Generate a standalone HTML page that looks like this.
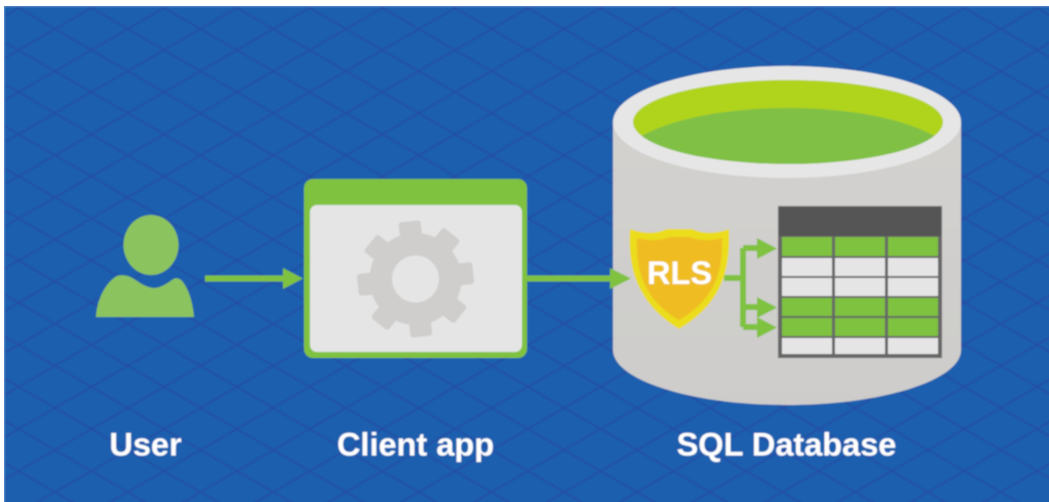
<!DOCTYPE html>
<html><head><meta charset="utf-8"><style>
html,body{margin:0;padding:0;background:#fff;width:1049px;height:502px;overflow:hidden}
svg{display:block}
text{font-family:"Liberation Sans",sans-serif;font-weight:bold;fill:#fff}
</style></head><body>
<svg width="1049" height="502" viewBox="0 0 1049 502" xmlns="http://www.w3.org/2000/svg">
<defs>
<pattern id="lat" x="55" y="29" width="72.75" height="42.1" patternUnits="userSpaceOnUse">
<path d="M0 0L72.75 42.1M72.75 0L0 42.1" stroke="#2350a6" stroke-width="1.9" fill="none"/>
</pattern>
<clipPath id="inner"><ellipse cx="788" cy="122" rx="155" ry="42"/></clipPath>
<filter id="b" x="-2%" y="-2%" width="104%" height="104%"><feGaussianBlur stdDeviation="0.7"/></filter>
<linearGradient id="cyl" x1="0" y1="0" x2="0" y2="1"><stop offset="0" stop-color="#d2d1cf"/><stop offset="1" stop-color="#cdccca"/></linearGradient>
</defs>
<rect x="4" y="6" width="1055" height="506" fill="#5f8fca"/>
<g filter="url(#b)">
<rect x="5" y="7" width="1054" height="505" fill="#1a5fae"/>
<rect x="5" y="7" width="1054" height="505" fill="url(#lat)"/>

<!-- user -->
<ellipse cx="151" cy="245" rx="27.5" ry="30" fill="#8bc45f"/>
<path d="M96 317C97 300 105 283 117 276C124 274 130 276 137 281C144 286 150 288 155 288C160 288 168 283 172 280C176 277 179 278 182 281C189 289 193 304 194 317Z" fill="#8bc45f"/>

<!-- arrow 1 -->
<rect x="205" y="275.500" width="80" height="6" fill="#7fc241"/>
<path d="M283 268L303 278.500L283 289Z" fill="#7fc241"/>

<!-- client app -->
<rect x="304" y="179" width="223" height="179" rx="9" fill="#7fc241"/>
<rect x="310" y="205" width="212" height="147" rx="7" fill="#e5e5e5"/>
<g transform="translate(415.500 279)" fill="#cfcecc">
<circle r="46"/>
<g id="teeth">
<rect x="-11" y="-58" width="22" height="24" rx="3" transform="rotate(-6)"/>
<rect x="-11" y="-58" width="22" height="24" rx="3" transform="rotate(39)"/>
<rect x="-11" y="-58" width="22" height="24" rx="3" transform="rotate(84)"/>
<rect x="-11" y="-58" width="22" height="24" rx="3" transform="rotate(129)"/>
<rect x="-11" y="-58" width="22" height="24" rx="3" transform="rotate(174)"/>
<rect x="-11" y="-58" width="22" height="24" rx="3" transform="rotate(219)"/>
<rect x="-11" y="-58" width="22" height="24" rx="3" transform="rotate(264)"/>
<rect x="-11" y="-58" width="22" height="24" rx="3" transform="rotate(309)"/>
</g>
<circle r="23.500" fill="#e5e5e5"/>
</g>

<!-- cylinder -->
<path d="M613 122V350C613 380 691 405 787 405C883 405 961 380 961 350V122Z" fill="url(#cyl)"/>
<ellipse cx="787" cy="122" rx="174" ry="56" fill="#e6e6e6"/>
<ellipse cx="788" cy="122" rx="155" ry="42" fill="#b0d31f"/>
<g clip-path="url(#inner)"><ellipse cx="788" cy="165" rx="170" ry="57" fill="#7fc045"/></g>

<!-- arrow 2 -->
<rect x="527" y="275.500" width="86" height="6" fill="#7fc241"/>
<path d="M610 268L631 278.500L610 289Z" fill="#7fc241"/>

<!-- table -->
<rect x="778" y="206" width="164" height="152" fill="#666"/>
<rect x="779" y="207" width="162" height="29" fill="#555"/>
<g fill="#7fc241">
<rect x="782" y="237" width="50" height="19"/><rect x="835" y="237" width="50" height="19"/><rect x="888" y="237" width="50" height="19"/>
<rect x="782" y="298" width="50" height="18"/><rect x="835" y="298" width="50" height="18"/><rect x="888" y="298" width="50" height="18"/>
<rect x="782" y="318" width="50" height="18"/><rect x="835" y="318" width="50" height="18"/><rect x="888" y="318" width="50" height="18"/>
</g>
<g fill="#e5e5e5">
<rect x="782" y="258" width="50" height="18"/><rect x="835" y="258" width="50" height="18"/><rect x="888" y="258" width="50" height="18"/>
<rect x="782" y="278" width="50" height="18"/><rect x="835" y="278" width="50" height="18"/><rect x="888" y="278" width="50" height="18"/>
<rect x="782" y="338" width="50" height="16"/><rect x="835" y="338" width="50" height="16"/><rect x="888" y="338" width="50" height="16"/>
</g>

<!-- branch -->
<path d="M724 278H743M743 248V327M743 248H760M743 307H760M743 327H760" stroke="#7fc241" stroke-width="6" fill="none" stroke-linejoin="round"/>
<path d="M757 238L777 248.500L757 259Z" fill="#7fc241"/>
<path d="M757 297L777 307.500L757 318Z" fill="#7fc241"/>
<path d="M757 317L777 327.500L757 338Z" fill="#7fc241"/>

<!-- shield -->
<path d="M630 229C644 234 656 234 667 229L668 229H692C703 234 716 234 729 229C730 262 727 301 679 329C633 301 628 262 630 229Z" fill="#ebdc1a"/>
<path d="M637 238C648 241 660 241 670 237H689C700 241 712 241 722 238C723 266 718 298 679 320C641 298 636 266 637 238Z" fill="#efbd20"/>
<text x="679.500" y="284" font-size="32.500" text-anchor="middle">RLS</text>

<!-- labels -->
<text x="145.500" y="455.500" font-size="32.500" text-anchor="middle">User</text>
<text x="415.500" y="455.500" font-size="32.500" text-anchor="middle">Client app</text>
<text x="786.500" y="455.500" font-size="32.500" text-anchor="middle">SQL Database</text>
</g>
<rect x="0" y="0" width="1049" height="6" fill="#fff"/>
<rect x="0" y="0" width="4" height="502" fill="#fff"/>
</svg>
</body></html>
